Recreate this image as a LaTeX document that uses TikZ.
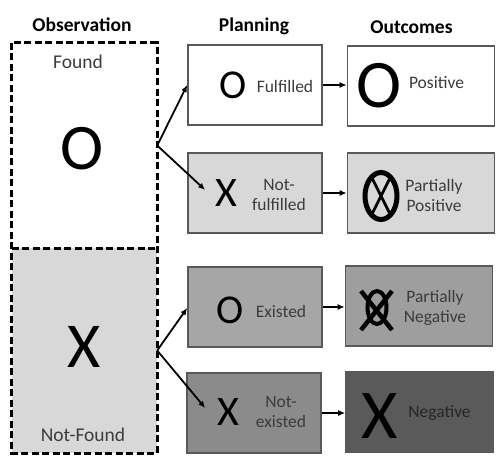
\documentclass[tikz,border=0pt]{standalone}
\usepackage{fontspec}
\setmainfont{Carlito}
\usetikzlibrary{positioning,arrows.meta,calc}

\definecolor{lightrow}{HTML}{D8D8D8}
\definecolor{midrow}{HTML}{A6A6A6}
\definecolor{darkrow}{HTML}{8B8B8B}
\definecolor{darkest}{HTML}{5A5A5A}
\definecolor{labelgray}{HTML}{3C3C3C}

\begin{document}
\begin{tikzpicture}[x=1pt,y=-1pt,
  planbox/.style={draw=gray!70!black, line width=1.6pt, minimum width=134pt, minimum height=80pt, inner sep=0pt},
  outbox/.style={draw=gray!70!black, line width=1.6pt, minimum width=147pt, minimum height=80pt, inner sep=0pt},
  half/.style={minimum width=145pt, minimum height=205pt, inner sep=0pt},
  title/.style={font=\fontsize{19.5}{22}\selectfont\bfseries},
  lbl/.style={font=\fontsize{17.5}{20}\selectfont, text=labelgray, align=center, inner sep=0pt},
  sym/.style={inner sep=0pt},
  link/.style={-{Latex[length=7pt,width=6pt]}, line width=1.8pt}]
\useasboundingbox (0,0) rectangle (504,463);

% titles
\node [title] (tobs) at (82,25) {Observation};
\node [title] (tplan) at (254,26) {Planning};
\node [title] (tout) at (411.5,27) {Outcomes};

% observation column
\node [half, fill=white] (found) at (84.5,145.5) {};
\node [half, fill=lightrow] (notfound) at (84.5,350.5) {};
\draw [line width=2.8pt, dash pattern=on 7pt off 3.5pt] (found.north west) rectangle (notfound.south east);
\draw [line width=2.8pt, dash pattern=on 7pt off 3.5pt] (found.south west) -- (found.south east);
\node [lbl] (tfound) at (78,62) {\fontsize{19.5}{22}\selectfont Found};
\node [lbl] (tnotfound) at (83,435) {\fontsize{19.5}{22}\selectfont Not-Found};
\node [sym, font=\fontsize{65}{65}\selectfont] (bigo) at (82.5,148.5) {O};
\node [sym, font=\fontsize{64}{64}\selectfont] (bigx) at (84,347) {X};

% planning column
\node [planbox, fill=white] (fulf) at (255,85) {};
\node [planbox, fill=lightrow] (notfulf) at (255,193) {};
\node [planbox, fill=midrow] (exist) at (255,307) {};
\node [planbox, fill=darkrow] (notexist) at (254,413) {};

\node [sym, font=\fontsize{41}{41}\selectfont] (po1) at (233,85) {O};
\node [lbl] (pl1) at (285,86) {Fulfilled};
\node [sym, font=\fontsize{42}{42}\selectfont] (px2) at (226,193) {X};
\node [lbl] (pl2) at (279,195) {Not-\\fulfilled};
\node [sym, font=\fontsize{41}{41}\selectfont] (po3) at (230,310) {O};
\node [lbl] (pl3) at (281,311) {Existed};
\node [sym, font=\fontsize{42}{42}\selectfont] (px4) at (228,412) {X};
\node [lbl] (pl4) at (281,412) {Not-\\existed};

% outcomes column
\node [outbox, fill=white] (pos) at (421,86) {};
\node [outbox, fill=lightrow] (ppos) at (421,193) {};
\node [outbox, fill=midrow!95!black] (pneg) at (419,306) {};
\node [outbox, fill=darkest] (neg) at (419.5,412) {};

\node [sym, font=\fontsize{68}{68}\selectfont] (oo1) at (379,85.5) {O};
\node [lbl] (ol1) at (436.5,83) {Positive};
% circle with cross
\draw [line width=5pt] (381,196) ellipse [x radius=16pt, y radius=23.5pt];
\draw [line width=2.8pt] (371,176) -- (391,216) (391,176) -- (371,216);
\node [lbl] (ol2) at (434,195) {Partially\\Positive};
% crossed circle
\draw [line width=4pt] (377,307.5) ellipse [x radius=9.5pt, y radius=16.5pt];
\draw [line width=4.5pt] (361,291) -- (392,330) (392,291) -- (361,330);
\node [lbl] (ol3) at (435,308) {Partially\\Negative};
\node [sym, font=\fontsize{70}{70}\selectfont] (ox4) at (380,416) {X};
\node [lbl, text=black!85] (ol4) at (439.5,413) {Negative};

% connectors
\draw [link] (found.east) -- (fulf.west);
\draw [link] (found.east) -- ([xshift=18pt,yshift=3pt]notfulf.west);
\draw [link] (notfound.east) -- ([yshift=-1pt]exist.west);
\draw [link] (notfound.east) -- ([xshift=19pt,yshift=5pt]notexist.west);
\draw [link] (fulf.east) -- (pos.west |- fulf.east);
\draw [link] (notfulf.east) -- (ppos.west |- notfulf.east);
\draw [link] (exist.east) -- (pneg.west |- exist.east);
\draw [link] (notexist.east) -- (neg.west |- notexist.east);
\end{tikzpicture}
\end{document}
